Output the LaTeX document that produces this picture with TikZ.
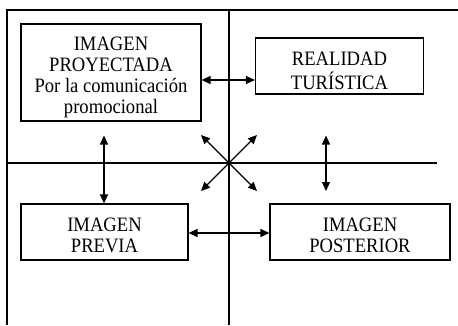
\documentclass[tikz,border=0pt]{standalone}
\usepackage{graphicx}
\usepackage{fontspec}
\setmainfont{Liberation Serif}
\usetikzlibrary{arrows.meta}
\newcommand{\boxtext}[1]{\scalebox{1}[1.1]{\begin{tabular}[t]{@{}c@{}}#1\end{tabular}}}
\begin{document}
\begin{tikzpicture}[x=1pt,y=-1pt,
  box/.style={draw, line width=1.2pt, inner sep=0pt},
  txt/.style={inner sep=0pt, outer sep=0pt, anchor=base,
    font=\fontsize{18.6}{19.2}\selectfont},
  frame/.style={line width=1.2pt},
  biarrow/.style={line width=1.2pt, {Triangle[length=9pt,width=8pt]}-{Triangle[length=9pt,width=8pt]}}]
\useasboundingbox (0,0) rectangle (458,325);
% frame and dividers
\draw[frame] (7,325) -- (7,10) -- (458,10);
\draw[frame] (229,10) -- (229,325);
\draw[frame] (7,163) -- (437,163);
% boxes
\node[box, minimum width=180pt, minimum height=97pt] (p1) at (111,72.5) {};
\node[box, minimum width=168pt, minimum height=56pt] (p2) at (339.5,66) {};
\node[box, minimum width=167pt, minimum height=56pt] (p3) at (104.5,232) {};
\node[box, minimum width=180pt, minimum height=56pt] (p4) at (360,232) {};
% texts
\node[txt] (p1t) at (111,50.3) {\boxtext{IMAGEN\\PROYECTADA\\Por la comunicación\\promocional}};
\node[txt] (p2t) at (339.5,65.5) {\boxtext{REALIDAD\\TURÍSTICA}};
\node[txt] (p3t) at (104.5,231) {\boxtext{IMAGEN\\PREVIA}};
\node[txt] (p4t) at (360,231) {\boxtext{IMAGEN\\POSTERIOR}};
% arrow end points
\coordinate (t1) at (p1.east |- 0,80);
\coordinate (t2) at (p2.west |- 0,80);
\coordinate (b1) at (p3.east |- 0,233);
\coordinate (b2) at (p4.west |- 0,233);
\coordinate (l1) at (104,135.5);
\coordinate (l2) at (p3.north -| l1);
\coordinate (r1) at (326,135.5);
\coordinate (r2) at (326,191);
\coordinate (dul) at (201,135);
\coordinate (ddr) at (257,191);
\coordinate (ddl) at (201,191);
\coordinate (dur) at (257,135);
% arrows
\draw[biarrow] (t1) -- (t2);
\draw[biarrow] (b1) -- (b2);
\draw[biarrow] (l1) -- (l2);
\draw[biarrow] (r1) -- (r2);
\draw[biarrow] (dul) -- (ddr);
\draw[biarrow] (ddl) -- (dur);
\end{tikzpicture}
\end{document}
